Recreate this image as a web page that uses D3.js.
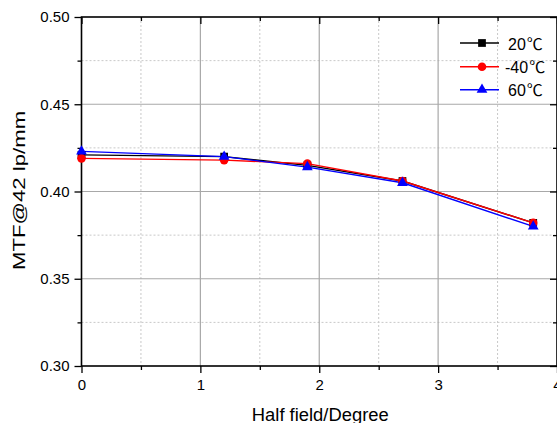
<!DOCTYPE html>
<html>
<head>
<meta charset="utf-8">
<script src="https://cdn.jsdelivr.net/npm/d3@7"></script>
<style>
  html, body { margin: 0; padding: 0; background: #fff; }
  svg { display: block; }
</style>
</head>
<body>
<svg id="chart" width="557" height="423"></svg>
<script>
const halfField = [0, 1.2, 1.9, 2.7, 3.8];
const seriesNames = ["20℃", "-40℃", "60℃"];
const mtf20 = [0.421, 0.420, 0.415, 0.406, 0.382];
const mtfMinus40 = [0.419, 0.418, 0.416, 0.406, 0.382];
const mtf60 = [0.423, 0.420, 0.414, 0.405, 0.380];
const xTickValues = [0, 1, 2, 3, 4];
const yTickValues = [0.30, 0.35, 0.40, 0.45, 0.50];
const xMinorValues = [0.5, 1.5, 2.5, 3.5];
const yMinorValues = [0.325, 0.375, 0.425, 0.475];

const FONT = "Liberation Sans, Arial, Helvetica, sans-serif";
const CJK = "Noto Sans CJK SC, Liberation Sans, sans-serif";

const series = [
  { name: seriesNames[0], values: mtf20, color: "#000000", symbol: d3.symbolSquare, size: 60 },
  { name: seriesNames[1], values: mtfMinus40, color: "#ff0000", symbol: d3.symbolCircle, size: 58 },
  { name: seriesNames[2], values: mtf60, color: "#0000ff", symbol: d3.symbolTriangle, size: 50 }
];

const svg = d3.select("#chart").attr("font-family", FONT);
const L = 81.5, R = 557, T = 17, B = 366;
const x = d3.scaleLinear().domain([0, 4]).range([L, R]);
const y = d3.scaleLinear().domain([0.30, 0.50]).range([B, T]);

// grid
const grid = svg.append("g");
grid.selectAll(".gmx").data(xMinorValues).join("line")
  .attr("x1", d => x(d)).attr("x2", d => x(d)).attr("y1", T).attr("y2", B)
  .attr("stroke", "#c8c8c8").attr("stroke-dasharray", "2,2").attr("stroke-width", 1);
grid.selectAll(".gmy").data(yMinorValues).join("line")
  .attr("y1", d => y(d)).attr("y2", d => y(d)).attr("x1", L).attr("x2", R)
  .attr("stroke", "#c8c8c8").attr("stroke-dasharray", "2,2").attr("stroke-width", 1);
grid.selectAll(".gx").data(xTickValues.slice(1, -1)).join("line")
  .attr("x1", d => x(d)).attr("x2", d => x(d)).attr("y1", T).attr("y2", B)
  .attr("stroke", "#a8a8a8").attr("stroke-width", 1.2);
grid.selectAll(".gy").data(yTickValues.slice(1, -1)).join("line")
  .attr("y1", d => y(d)).attr("y2", d => y(d)).attr("x1", L).attr("x2", R)
  .attr("stroke", "#a8a8a8").attr("stroke-width", 1.2);

// axes
const fmt = d3.format(".2f");
const axStyle = g => {
  g.attr("font-family", FONT);
  g.select(".domain").remove();
  g.selectAll(".tick line").attr("stroke", "#000").attr("stroke-width", 1.3);
  g.selectAll(".tick text").attr("font-size", 15).attr("fill", "#000").attr("font-family", FONT);
};
const tickOnly = g => { g.select(".domain").remove(); g.selectAll("line").attr("stroke", "#000").attr("stroke-width", 1.3); };
// bottom
const gb = svg.append("g").attr("transform", `translate(0,${B})`)
  .call(d3.axisBottom(x).tickValues(xTickValues).tickFormat(d3.format("d")).tickSize(7).tickPadding(6));
axStyle(gb);
svg.append("g").attr("transform", `translate(0,${B})`)
  .call(d3.axisBottom(x).tickValues(xMinorValues).tickFormat("").tickSize(4)).call(tickOnly);
// left
const gl = svg.append("g").attr("transform", `translate(${L},0)`)
  .call(d3.axisLeft(y).tickValues(yTickValues).tickFormat(fmt).tickSize(7).tickPadding(5));
axStyle(gl);
svg.append("g").attr("transform", `translate(${L},0)`)
  .call(d3.axisLeft(y).tickValues(yMinorValues).tickFormat("").tickSize(4)).call(tickOnly);
// top (inward)
svg.append("g").attr("transform", `translate(0,${T})`)
  .call(d3.axisTop(x).tickValues(xTickValues).tickFormat("").tickSize(-7)).call(tickOnly);
svg.append("g").attr("transform", `translate(0,${T})`)
  .call(d3.axisTop(x).tickValues(xMinorValues).tickFormat("").tickSize(-4)).call(tickOnly);
// right (inward)
svg.append("g").attr("transform", `translate(${R},0)`)
  .call(d3.axisRight(y).tickValues(yTickValues).tickFormat("").tickSize(-7)).call(tickOnly);
svg.append("g").attr("transform", `translate(${R},0)`)
  .call(d3.axisRight(y).tickValues(yMinorValues).tickFormat("").tickSize(-4)).call(tickOnly);

// frame
svg.append("rect").attr("x", L).attr("y", T).attr("width", R - L).attr("height", B - T)
  .attr("fill", "none").attr("stroke", "#000").attr("stroke-width", 1.6);

// series
const line = d3.line().x((d, i) => x(halfField[i])).y(d => y(d));
series.forEach(s => {
  svg.append("path").datum(s.values).attr("d", line)
    .attr("fill", "none").attr("stroke", s.color).attr("stroke-width", 1.4);
});
series.forEach(s => {
  svg.append("g").selectAll("path").data(s.values).join("path")
    .attr("transform", (d, i) => `translate(${x(halfField[i])},${y(d)})`)
    .attr("d", d3.symbol().type(s.symbol).size(s.size))
    .attr("fill", s.color);
});

// legend
const legY = [43, 66.7, 89.7];
series.forEach((s, i) => {
  const g = svg.append("g");
  g.append("line").attr("x1", 460).attr("x2", 499).attr("y1", legY[i]).attr("y2", legY[i])
    .attr("stroke", s.color).attr("stroke-width", 1.4);
  g.append("path").attr("transform", `translate(482,${legY[i]})`)
    .attr("d", d3.symbol().type(s.symbol).size(s.size)).attr("fill", s.color);
  const t = g.append("text").attr("x", i === 1 ? 505 : 508).attr("y", legY[i] + 6.5)
    .attr("font-size", 16).attr("fill", "#000").attr("font-family", FONT);
  const num = s.name.replace("℃", "");
  t.append("tspan").text(num);
  t.append("tspan").attr("font-family", CJK).attr("font-size", 16).attr("dx", 1).text("℃");
});

// axis titles
svg.append("text").attr("x", 320.3).attr("y", 421).attr("text-anchor", "middle")
  .attr("font-size", 17.5).attr("fill", "#000").attr("font-family", FONT)
  .attr("textLength", 137).attr("lengthAdjust", "spacingAndGlyphs")
  .text("Half field/Degree");
svg.append("text").attr("transform", "translate(25,190.4) rotate(-90)").attr("text-anchor", "middle")
  .attr("font-size", 17).attr("fill", "#000").attr("font-family", FONT)
  .attr("textLength", 159).attr("lengthAdjust", "spacingAndGlyphs")
  .text("MTF@42 lp/mm");
</script>
</body>
</html>
